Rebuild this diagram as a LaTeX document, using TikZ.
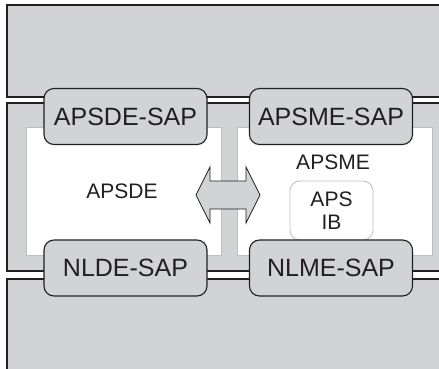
\documentclass[tikz,border=0pt]{standalone}
\usepackage{fontspec}
\setmainfont{Liberation Sans}
\definecolor{gfill}{HTML}{D1D3D4}
\definecolor{dline}{HTML}{231F20}
\definecolor{lline}{HTML}{BCBEC0}
\begin{document}
\begin{tikzpicture}[x=1pt,y=-1pt,
  block/.style={draw=dline,fill=gfill,line width=1.3pt},
  panel/.style={draw=lline,fill=white,line width=1pt},
  sap/.style={draw=dline,fill=gfill,line width=1.1pt,rounded corners=10pt,
    minimum width=163pt,minimum height=56pt,inner sep=0pt,
    font=\fontsize{25}{28}\selectfont,text=dline},
  lbl/.style={font=\fontsize{21}{22.5}\selectfont,text=dline,inner sep=0pt},
  ibbox/.style={draw=lline,fill=white,line width=0.8pt,rounded corners=10pt,
    minimum width=83pt,minimum height=59pt,align=center,inner sep=0pt,
    font=\fontsize{21}{22.5}\selectfont,text=dline},
  dbl/.style={draw=dline,fill=gfill,line width=0.8pt,line join=miter}]
\useasboundingbox (0,0) rectangle (439,369);
\clip (0,0) rectangle (439,369);
\fill[white] (0,0) rectangle (439,369);
% layer blocks
\draw[block] (7,5) rectangle (450,97);
\draw[block] (7,103) rectangle (450,271);
\draw[block] (7,279) rectangle (450,380);
% white panels
\draw[panel] (26,127) rectangle (221,255);
\draw[panel] (237,127) rectangle (432,255);
% double arrow
\draw[dbl] (196,195) -- (210,167) -- (210,181) -- (246,181) -- (246,167)
  -- (260,195) -- (246,223) -- (246,209) -- (210,209) -- (210,223) -- cycle;
% labels
\node[lbl] (apsde) at (122,191) {APSDE};
\node[lbl] (apsme) at (333,162) {APSME};
\node[ibbox] (apsib) at (331.5,210.5) {APS\\IB};
% SAP boxes
\node[sap] (apsdesap) at (125.5,116.5) {APSDE-SAP};
\node[sap] (apsmesap) at (331,116.5) {APSME-SAP};
\node[sap] (nldesap) at (125.5,268) {NLDE-SAP};
\node[sap] (nlmesap) at (331,268) {NLME-SAP};
\end{tikzpicture}
\end{document}
